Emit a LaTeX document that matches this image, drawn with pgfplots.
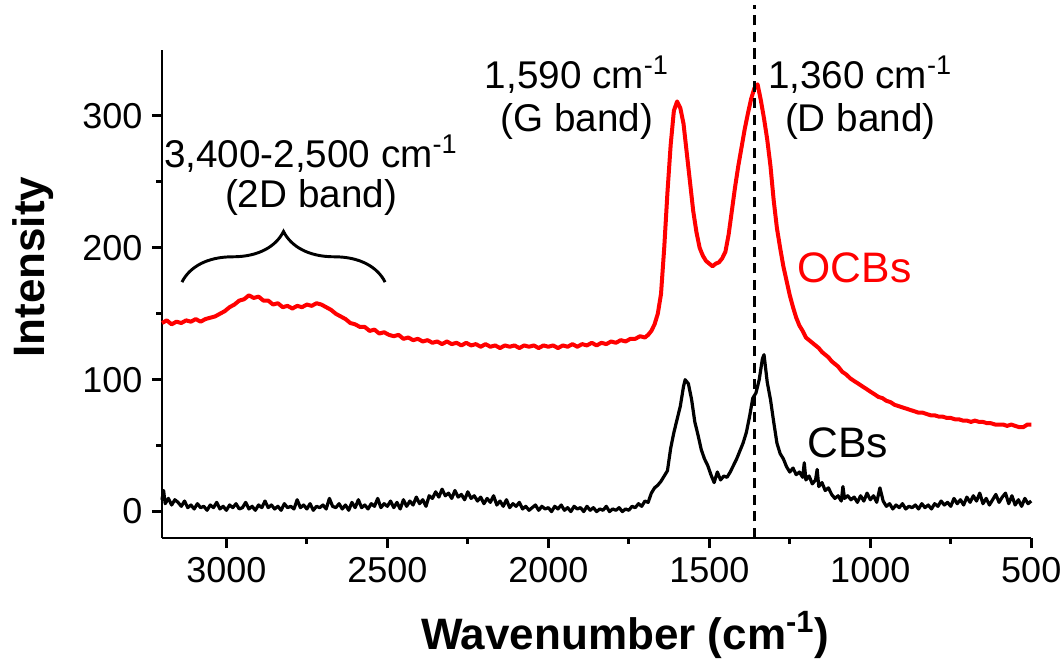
\documentclass[border=0pt]{standalone}
\usepackage{fontspec}
\setmainfont{Liberation Sans}
\usepackage{pgfplots}
\pgfplotsset{compat=1.18}
\usetikzlibrary{decorations.pathreplacing}

% OCBs spectrum (red)
\pgfplotstableread{
x y
3200 143
3185 145
3170 142
3155 144
3140 143
3125 145
3110 144
3095 146
3080 144
3065 146
3050 147
3035 148
3020 150
3005 152
2990 155
2975 157
2960 160
2945 161
2930 164
2915 162
2900 163
2885 160
2870 160
2855 157
2840 158
2825 155
2810 156
2795 154
2780 156
2765 155
2750 157
2735 156
2720 158
2705 157
2690 155
2675 153
2660 150
2645 148
2630 146
2615 143
2600 142
2585 140
2570 140
2555 137
2540 138
2525 135
2510 136
2495 134
2480 133
2465 134
2450 131
2435 132
2420 130
2405 131
2390 129
2375 130
2360 128
2345 129
2330 127
2315 129
2300 127
2285 128
2270 126
2255 128
2240 126
2225 127
2210 125
2195 127
2180 125
2165 126
2150 124
2135 126
2120 125
2105 126
2090 124
2075 126
2060 125
2045 126
2030 124
2015 126
2000 125
1985 126
1970 124
1955 126
1940 125
1925 127
1910 125
1895 127
1880 126
1865 128
1850 126
1835 128
1820 127
1805 129
1790 128
1775 130
1760 129
1745 131
1730 131
1715 133
1700 132
1690 134
1680 137
1670 142
1660 150
1650 165
1640 200
1630 242
1620 278
1610 304
1600 311
1590 306
1580 294
1570 272
1560 250
1550 228
1540 212
1530 200
1520 194
1510 190
1500 188
1490 186
1480 188
1470 189
1460 192
1450 197
1440 210
1430 228
1420 246
1410 262
1400 276
1390 290
1380 302
1370 313
1360 321
1350 324
1340 312
1330 298
1320 282
1310 262
1300 236
1290 215
1280 200
1270 186
1260 175
1250 164
1240 155
1230 147
1220 141
1210 137
1200 132
1190 130
1180 128
1170 126
1160 124
1150 121
1140 119
1130 117
1120 114
1110 112
1100 110
1087 106
1075 104
1062 101
1050 99
1037 97
1025 95
1012 93
1000 91
987 89
975 87
962 86
950 84
937 83
925 81
912 80
900 79
887 78
875 77
862 76
850 75
837 75
825 74
812 73
800 73
787 72
775 72
762 71
750 71
737 70
725 70
712 69
700 69
687 68
675 69
662 68
650 68
637 67
625 67
612 66
600 66
587 66
575 65
562 66
550 65
537 64
525 64
512 66
500 66
}\ocbs

% CBs spectrum (black)
\pgfplotstableread{
x y
3200 9
3195 16
3190 6
3180 10
3170 5
3160 9
3150 7
3140 4
3130 8
3120 3
3110 5
3100 2
3090 6
3080 3
3070 4
3060 1
3050 5
3040 3
3030 7
3020 2
3010 4
3000 1
2990 5
2980 3
2970 6
2960 2
2950 3
2940 7
2930 2
2920 4
2910 1
2900 5
2890 3
2880 8
2870 3
2860 5
2850 2
2840 4
2830 1
2820 6
2810 3
2800 4
2790 2
2780 9
2770 3
2760 5
2750 2
2740 6
2730 1
2720 4
2710 3
2700 5
2690 2
2680 10
2670 4
2660 3
2650 6
2640 2
2630 5
2620 1
2610 7
2600 3
2590 9
2580 3
2570 5
2560 2
2550 6
2540 4
2530 10
2520 3
2510 6
2500 4
2490 8
2480 3
2470 7
2460 2
2450 9
2440 4
2430 8
2420 5
2410 11
2400 6
2390 9
2380 4
2370 12
2360 10
2350 15
2340 11
2330 17
2320 12
2310 14
2300 10
2290 16
2280 11
2270 13
2260 9
2250 15
2240 10
2230 12
2220 8
2210 11
2200 6
2190 10
2180 7
2170 12
2160 5
2150 8
2140 4
2130 9
2120 3
2110 6
2100 4
2090 7
2080 2
2070 4
2060 1
2050 3
2040 5
2030 1
2020 4
2010 2
2000 3
1990 0
1980 4
1970 2
1960 5
1950 1
1940 3
1930 0
1920 4
1910 2
1900 3
1890 0
1880 4
1870 1
1860 3
1850 0
1840 2
1830 1
1820 4
1810 0
1800 2
1790 1
1780 3
1770 0
1760 2
1750 1
1740 4
1730 3
1720 6
1710 4
1700 8
1690 7
1680 14
1670 18
1660 20
1650 23
1640 27
1630 31
1620 48
1610 60
1600 70
1590 80
1580 95
1575 100
1565 97
1555 85
1545 68
1535 58
1525 47
1515 40
1505 35
1495 28
1485 22
1475 30
1465 24
1455 27
1445 26
1435 30
1425 35
1415 40
1405 46
1395 52
1385 60
1375 72
1365 86
1355 90
1345 100
1335 116
1330 119
1320 98
1310 85
1300 68
1290 52
1280 44
1270 40
1260 34
1250 30
1240 33
1230 28
1220 30
1210 26
1205 37
1200 24
1190 27
1180 21
1170 24
1165 32
1160 19
1150 22
1140 16
1130 18
1120 13
1110 10
1100 12
1090 8
1085 19
1080 10
1070 12
1060 9
1050 11
1040 7
1030 12
1020 8
1010 14
1000 9
990 12
980 7
970 18
960 8
950 4
940 6
930 2
920 5
910 3
900 6
890 2
880 4
870 3
860 5
850 2
840 6
830 3
820 5
810 2
800 6
790 4
780 8
770 5
760 7
750 4
740 10
730 6
720 9
710 5
700 11
690 7
680 12
670 8
660 14
650 6
640 10
630 5
620 9
610 13
600 7
590 11
580 14
570 6
560 12
550 5
540 9
530 4
520 10
510 6
500 8
}\cbs

\begin{document}
\begin{tikzpicture}
\path[use as bounding box] (-60.75pt,-45.4pt) rectangle (337.9pt,201.75pt);
\begin{axis}[
    at={(0,0)}, anchor=south west,
    width=326pt, height=183pt, scale only axis,
    x dir=reverse,
    xmin=500, xmax=3200, ymin=-20, ymax=350,
    axis x line*=bottom, axis y line*=left,
    axis line style={line width=1.1pt, -},
    xtick={500,1000,...,3000}, minor xtick={750,1250,...,2750},
    ytick={0,100,200,300}, minor ytick={50,150,250},
    tick align=outside,
    major tick length=3.8pt, minor tick length=2.2pt,
    every tick/.style={line width=1.1pt, black},
    /pgf/number format/assume math mode=true,
    /pgf/number format/set thousands separator={},
    tick label style={font=\fontsize{13.5}{15}\selectfont},
    xlabel={\textbf{Wavenumber (cm\textsuperscript{-1})}},
    ylabel={\textbf{Intensity}},
    label style={font=\fontsize{16.5}{18}\selectfont},
    xlabel style={at={(axis description cs:0.533,-0.199)}, anchor=center},
    ylabel style={at={(axis description cs:-0.148,0.555)}, anchor=center, rotate=0},
    clip=false,
]
\addplot[red, line width=1.5pt, line join=round] table[x=x, y=y] {\ocbs};
\addplot[black, line width=1.2pt, line join=round] table[x=x, y=y] {\cbs};
\draw[black, line width=1.1pt, dash pattern=on 3.8pt off 2.4pt] (axis cs:1360,-20) -- (axis cs:1360,384);
\draw[black, line width=1.1pt, decorate, decoration={brace, amplitude=19pt}] (axis cs:3138,174) -- (axis cs:2507,174);
\node[align=center, font=\fontsize{14.5}{16}\selectfont] at (axis cs:1911,314) {1,590 cm\textsuperscript{-1}\\(G band)};
\node[align=center, font=\fontsize{14.5}{16}\selectfont] at (axis cs:1031,314) {1,360 cm\textsuperscript{-1}\\(D band)};
\node[align=center, font=\fontsize{14.5}{15}\selectfont] at (axis cs:2737,255) {3,400-2,500 cm\textsuperscript{-1}\\(2D band)};
\node[anchor=west, red, font=\fontsize{16}{18}\selectfont] at (axis cs:1255,185) {OCBs};
\node[anchor=west, font=\fontsize{16}{18}\selectfont] at (axis cs:1225,52) {CBs};
\end{axis}
\end{tikzpicture}
\end{document}
